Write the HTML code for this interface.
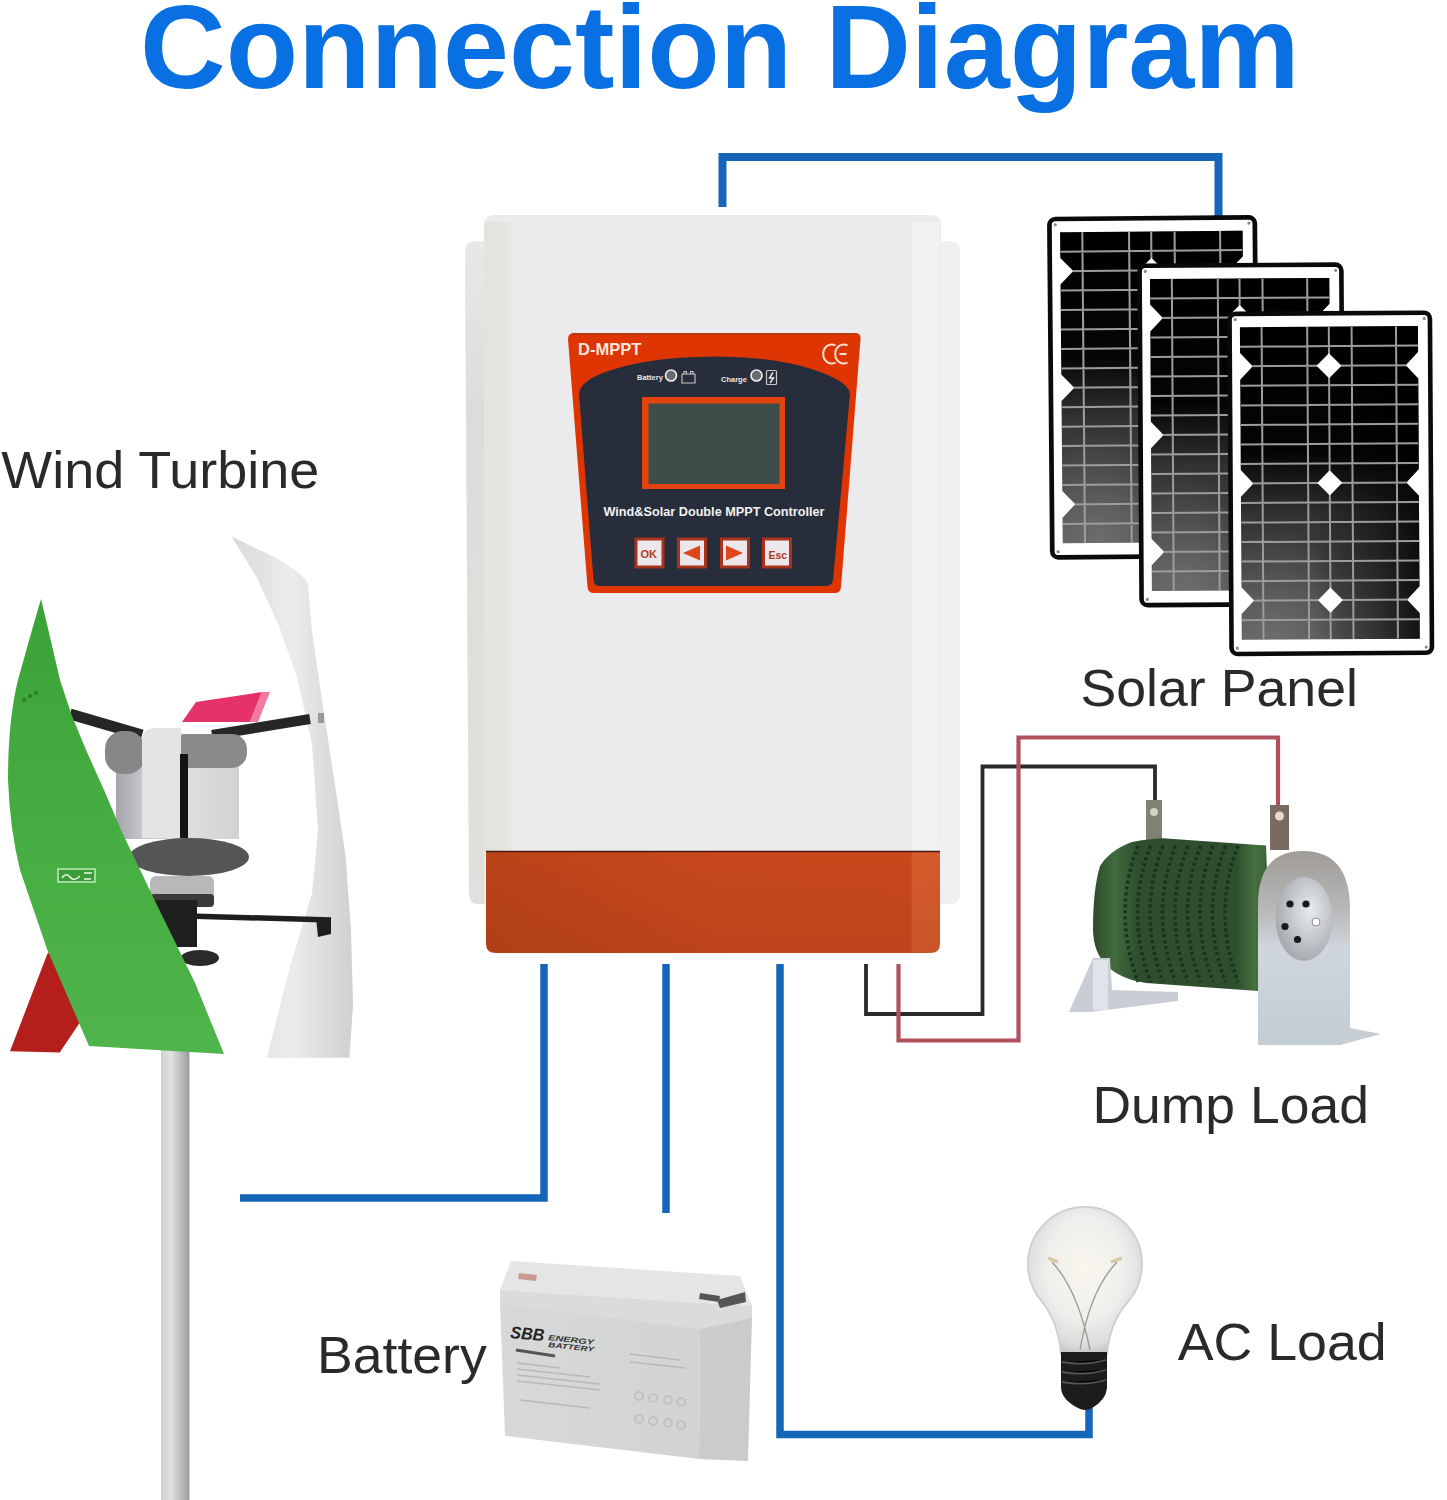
<!DOCTYPE html>
<html><head><meta charset="utf-8">
<style>
html,body{margin:0;padding:0;background:#fff;}
body{width:1447px;height:1500px;overflow:hidden;position:relative;font-family:"Liberation Sans",sans-serif;}
svg{position:absolute;left:0;top:0;}
.lbl{font-family:"Liberation Sans",sans-serif;font-size:52px;fill:#2a2a2a;}
</style></head>
<body>
<svg width="1447" height="1500" viewBox="0 0 1447 1500">
<defs>
  <clipPath id="cellclip"><path d="M0 0 H178 V25.6 L165.4 38.9 L178 52.2 V142.2 L165.4 155.5 L178 168.8 V258.8 L165.4 272.1 L178 285.4 V311 H0 V285.4 L12.6 272.1 L0 258.8 V168.8 L12.6 155.5 L0 142.2 V52.2 L12.6 38.9 L0 25.6 Z"/></clipPath>
  <linearGradient id="cellg" x1="0" y1="0" x2="0" y2="1">
    <stop offset="0" stop-color="#000"/>
    <stop offset="0.4" stop-color="#050505"/>
    <stop offset="0.6" stop-color="#333"/>
    <stop offset="1" stop-color="#606060"/>
  </linearGradient>
  <linearGradient id="cellshade" x1="0" y1="0" x2="1" y2="0">
    <stop offset="0" stop-color="#000" stop-opacity="0"/>
    <stop offset="0.4" stop-color="#000" stop-opacity="0.05"/>
    <stop offset="0.75" stop-color="#000" stop-opacity="0.45"/>
    <stop offset="1" stop-color="#000" stop-opacity="0.8"/>
  </linearGradient>
  <radialGradient id="cellspot" cx="0.2" cy="0.98" r="0.35">
    <stop offset="0" stop-color="#8a8a8a" stop-opacity="0.35"/>
    <stop offset="1" stop-color="#8a8a8a" stop-opacity="0"/>
  </radialGradient>
  <linearGradient id="poleg" x1="0" y1="0" x2="1" y2="0">
    <stop offset="0" stop-color="#cfcfcf"/>
    <stop offset="0.35" stop-color="#e2e2e2"/>
    <stop offset="0.7" stop-color="#bdbdbd"/>
    <stop offset="1" stop-color="#9a9a9a"/>
  </linearGradient>
  <linearGradient id="whiteblade" x1="0" y1="0" x2="1" y2="0">
    <stop offset="0" stop-color="#dadada"/>
    <stop offset="0.5" stop-color="#ececec"/>
    <stop offset="1" stop-color="#d0d0d0"/>
  </linearGradient>
  <linearGradient id="hubg" x1="0" y1="0" x2="1" y2="0">
    <stop offset="0" stop-color="#a4a4aa"/>
    <stop offset="0.2" stop-color="#c4c4ca"/>
    <stop offset="0.6" stop-color="#dedede"/>
    <stop offset="1" stop-color="#d2d2d2"/>
  </linearGradient>
  <linearGradient id="greeng" x1="0" y1="0" x2="0" y2="1">
    <stop offset="0" stop-color="#3aa238"/>
    <stop offset="0.5" stop-color="#45ad41"/>
    <stop offset="1" stop-color="#4fb44a"/>
  </linearGradient>
  <linearGradient id="resg" x1="0" y1="0" x2="1" y2="0">
    <stop offset="0" stop-color="#2c4a2a"/>
    <stop offset="0.12" stop-color="#416c3c"/>
    <stop offset="0.25" stop-color="#2e4e2e"/>
    <stop offset="0.8" stop-color="#2e4e2e"/>
    <stop offset="0.9" stop-color="#467040"/>
    <stop offset="1" stop-color="#3a6036"/>
  </linearGradient>
  <linearGradient id="silver" x1="0" y1="0" x2="0" y2="1">
    <stop offset="0" stop-color="#a09c98"/>
    <stop offset="0.3" stop-color="#b8b8b8"/>
    <stop offset="0.5" stop-color="#cfd6dc"/>
    <stop offset="1" stop-color="#c4ccd4"/>
  </linearGradient>
  <radialGradient id="discg" cx="0.6" cy="0.4" r="0.6">
    <stop offset="0" stop-color="#e8ecef"/>
    <stop offset="0.6" stop-color="#c2c6ca"/>
    <stop offset="1" stop-color="#a8acb0"/>
  </radialGradient>
  <radialGradient id="bulbg" cx="0.5" cy="0.42" r="0.58">
    <stop offset="0" stop-color="#faf7ee"/>
    <stop offset="0.6" stop-color="#eeeeec"/>
    <stop offset="0.9" stop-color="#dcdcdc"/>
    <stop offset="1" stop-color="#c8c8c8"/>
  </radialGradient>
  <linearGradient id="orangeg" x1="0" y1="0" x2="1" y2="0">
    <stop offset="0" stop-color="#bb4318"/>
    <stop offset="0.5" stop-color="#c8481c"/>
    <stop offset="0.935" stop-color="#c9481c"/>
    <stop offset="0.94" stop-color="#d65b2c"/>
    <stop offset="1" stop-color="#d45a2b"/>
  </linearGradient>
  <linearGradient id="orangev" x1="0" y1="0" x2="0" y2="1">
    <stop offset="0" stop-color="#000" stop-opacity="0"/>
    <stop offset="1" stop-color="#000" stop-opacity="0.06"/>
  </linearGradient>
  <linearGradient id="bodyband" x1="0" y1="0" x2="1" y2="0">
    <stop offset="0" stop-color="#e2e2de"/>
    <stop offset="0.65" stop-color="#e4e4e1"/>
    <stop offset="1" stop-color="#ebebed"/>
  </linearGradient>
  <linearGradient id="flangeg" x1="0" y1="0" x2="0" y2="1">
    <stop offset="0" stop-color="#e8e8e6"/>
    <stop offset="0.25" stop-color="#dedcda"/>
    <stop offset="1" stop-color="#e0e0dc"/>
  </linearGradient>
  <linearGradient id="battfront" x1="0" y1="0" x2="1" y2="0">
    <stop offset="0" stop-color="#d7d9d9"/>
    <stop offset="1" stop-color="#d2d4d4"/>
  </linearGradient>
  <g id="panel">
<rect x="2.3" y="2.3" width="200.4" height="338.4" rx="6" fill="#fff" stroke="#0a0a0a" stroke-width="4.6"/>
<g transform="translate(12.6 15.6)">
<path id="cellpath" d="M0 0 H178 V25.6 L165.4 38.9 L178 52.2 V142.2 L165.4 155.5 L178 168.8 V258.8 L165.4 272.1 L178 285.4 V311 H0 V285.4 L12.6 272.1 L0 258.8 V168.8 L12.6 155.5 L0 142.2 V52.2 L12.6 38.9 L0 25.6 Z" fill="url(#cellg)"/>
<path d="M0 0 H178 V25.6 L165.4 38.9 L178 52.2 V142.2 L165.4 155.5 L178 168.8 V258.8 L165.4 272.1 L178 285.4 V311 H0 V285.4 L12.6 272.1 L0 258.8 V168.8 L12.6 155.5 L0 142.2 V52.2 L12.6 38.9 L0 25.6 Z" fill="url(#cellshade)"/>
<path d="M0 0 H178 V25.6 L165.4 38.9 L178 52.2 V142.2 L165.4 155.5 L178 168.8 V258.8 L165.4 272.1 L178 285.4 V311 H0 V285.4 L12.6 272.1 L0 258.8 V168.8 L12.6 155.5 L0 142.2 V52.2 L12.6 38.9 L0 25.6 Z" fill="url(#cellspot)"/>
<path d="M21.7 0V311 M67.3 0V311 M88.9 0V311 M111.7 0V311 M156.1 0V311 M0 19.4H178 M0 38.9H178 M0 58.3H178 M0 77.8H178 M0 97.2H178 M0 116.6H178 M0 136.1H178 M0 155.5H178 M0 174.9H178 M0 194.4H178 M0 213.8H178 M0 233.2H178 M0 252.7H178 M0 272.1H178 M0 291.6H178" stroke="#9c9c9c" stroke-width="2" fill="none" clip-path="url(#cellclip)"/>
<path d="M88.9 26.4 L101.4 38.9 L88.9 51.4 L76.4 38.9 Z" fill="#fff"/>
<path d="M88.9 143.0 L101.4 155.5 L88.9 168.0 L76.4 155.5 Z" fill="#fff"/>
<path d="M88.9 259.6 L101.4 272.1 L88.9 284.6 L76.4 272.1 Z" fill="#fff"/>
</g>
<circle cx="8" cy="8" r="1.6" fill="#888"/>
<circle cx="197" cy="8" r="1.6" fill="#888"/>
<circle cx="8" cy="335" r="1.6" fill="#888"/>
<circle cx="197" cy="335" r="1.6" fill="#888"/>
  </g>
</defs>

<!-- TITLE -->
<text id="title" x="140" y="88" font-family="Liberation Sans" font-weight="bold" font-size="118.6" fill="#0870e3">Connection Diagram</text>

<!-- top blue wire -->
<path d="M722.5 207 V157 H1218.5 V216" fill="none" stroke="#1565b8" stroke-width="8"/>

<!-- CONTROLLER -->
<g id="controller">
  <path d="M475 241 H950 Q960 241 960 251 V894 Q960 904 950 904 H479 Q469 904 469 894 L465 251 Q465 241 475 241 Z" fill="#f0f0f2"/>
  <path d="M474 242 H484.5 V904 H479 Q469 904 469 894 L465 251 Q465 242 474 242 Z" fill="url(#flangeg)"/>
  <rect x="484" y="215" width="457" height="637" rx="9" fill="#ebebed"/>
  <rect x="484.5" y="222" width="32" height="630" fill="url(#bodyband)"/>
  <rect x="912" y="222" width="28" height="630" fill="#f1f1f3"/>
  <path d="M486 851 H940 V944 Q940 953 930 953 H496 Q486 953 486 944 Z" fill="url(#orangeg)"/>
  <path d="M486 851 H940 V944 Q940 953 930 953 H496 Q486 953 486 944 Z" fill="url(#orangev)"/>
  <path d="M486 851.5 H940" stroke="#4a1a0c" stroke-width="1.5"/>
  <!-- front panel -->
  <path d="M574 333 H855 Q861 333 860.5 339 L841 587 Q840.5 593 835 593 H594 Q588 593 587.5 587 L568 339 Q568 333 574 333 Z" fill="#de3503"/>
  <path d="M572 334 H857" stroke="#a83c1a" stroke-width="1.5"/>
  <path d="M579 394 Q580 383 598 375 Q640 357 715 356.5 Q790 357 832 377 Q849 385 850 394 L833 580 Q832 586 826 586 H600 Q594 586 593.5 580 Z" fill="#272d3b"/>
  <rect x="642" y="397" width="143" height="92" fill="#e2440f"/>
  <rect x="648.5" y="403.5" width="131" height="80.5" fill="#3d4d4a"/>
  <text x="578" y="355" font-family="Liberation Sans" font-weight="bold" font-size="16.5" fill="#fbe6dc">D-MPPT</text>
  <path d="M835.5 345.5 A8.5 9.5 0 1 0 835.5 362.5" fill="none" stroke="#fbe0d4" stroke-width="2"/>
  <path d="M847.5 345.5 A8.5 9.5 0 1 0 847.5 362.5 M839.5 354 H846.5" fill="none" stroke="#fbe0d4" stroke-width="2"/>
  <text x="637" y="380" font-family="Liberation Sans" font-weight="bold" font-size="7.5" fill="#e8e8e8">Battery</text>
  <circle cx="671" cy="375.5" r="5.5" fill="#6a6a6a" stroke="#eee" stroke-width="1.6"/>
  <path d="M682 374 H695 V383 H682 Z M684 374 V371.5 H686.5 V374 M690.5 374 V371.5 H693 V374" fill="none" stroke="#c8c8c8" stroke-width="1.1"/>
  <text x="721" y="382" font-family="Liberation Sans" font-weight="bold" font-size="7.5" fill="#e8e8e8">Charge</text>
  <circle cx="756.5" cy="375.5" r="5.5" fill="#6a6a6a" stroke="#eee" stroke-width="1.6"/>
  <rect x="766.5" y="370.5" width="10" height="14" rx="1" fill="none" stroke="#c8c8c8" stroke-width="1.2"/>
  <path d="M773 372.5 L769.5 378 H773.5 L770 383" fill="none" stroke="#eee" stroke-width="1.4"/>
  <text x="603.5" y="516" font-family="Liberation Sans" font-weight="bold" font-size="12.5" fill="#f2f2f2" textLength="221" lengthAdjust="spacingAndGlyphs">Wind&amp;Solar Double MPPT  Controller</text>
  <!-- buttons -->
  <g stroke="#a8321c" stroke-width="3" fill="#ebe7ea">
    <rect x="636" y="539" width="27" height="28"/>
    <rect x="678.5" y="539" width="27" height="28"/>
    <rect x="721.5" y="539" width="27" height="28"/>
    <rect x="763.5" y="539" width="27" height="28"/>
  </g>
  <text x="640.5" y="558" font-family="Liberation Sans" font-weight="bold" font-size="11" fill="#b33a20">OK</text>
  <path d="M683 553 L700 545.5 V560.5 Z" fill="#e0461a"/>
  <path d="M743 553 L726 545.5 V560.5 Z" fill="#e0461a"/>
  <text x="768.5" y="558.5" font-family="Liberation Sans" font-weight="bold" font-size="10.5" fill="#b33a20">Esc</text>
</g>

<!-- SOLAR PANELS -->
<g id="solar">
  <use href="#panel" transform="translate(1047 216.8) rotate(-0.5) scale(1.025 1)"/>
  <use href="#panel" transform="translate(1137.2 263.5) rotate(-0.35) scale(1.007 1.003)"/>
  <use href="#panel" transform="translate(1227.2 311.6) rotate(-0.35) scale(1.0 1.005)"/>
</g>

<!-- WIND TURBINE -->
<g id="turbine">
  <rect x="161" y="1040" width="28.5" height="460" fill="url(#poleg)"/>
  <!-- white blade -->
  <path d="M231.7 536.8 Q250 545 267 553.6 Q300 570 308 583.5 Q310 610 312 632 L323 706.7 L334.4 781 L345.6 856 L351 930.8 L353 1005.4 L349.4 1057.7 L267 1058 L289.6 968 L312 893.4 L318 830 L312 744 L297 676.8 L278.4 624.6 L256 576 Z" fill="url(#whiteblade)"/>
  <rect x="318" y="713" width="6" height="10" fill="#999"/>
  <!-- upper arms -->
  <path d="M70 714 L142 735" stroke="#262626" stroke-width="11"/>
  <path d="M212 735 L310 719" stroke="#262626" stroke-width="10"/>
  <!-- hub cylinder -->
  <path d="M116 762 H239 V839 H116 Z" fill="url(#hubg)"/>
  <rect x="105" y="731" width="40" height="43" rx="18" fill="#878787"/>
  <rect x="170" y="734" width="77" height="34" rx="15" fill="#8a8a8a"/>
  <path d="M142 740 Q142 729 155 728 H181 V838 H142 Z" fill="#e4e4e4"/>
  <rect x="180" y="754" width="8" height="84" fill="#141414"/>
  <!-- pink fin -->
  <path d="M182 722 L196 702 L262 692 L250 722 Z" fill="#e5336a"/>
  <path d="M250 722 L262 692 L270 692 L258 722 Z" fill="#f07aa0"/>
  <!-- dark disc -->
  <ellipse cx="189" cy="857" rx="60" ry="19" fill="#555"/>
  <rect x="150" y="876" width="64" height="31" rx="6" fill="#b8b8b8"/>
  <rect x="150" y="894" width="64" height="13" rx="4" fill="#3a3a3a"/>
  <rect x="155" y="900" width="42" height="47" fill="#1e1e1e"/>
  <ellipse cx="200" cy="958" rx="19" ry="8" fill="#2a2a2a"/>
  <path d="M188 916 L331 920" stroke="#1e1e1e" stroke-width="5.5"/>
  <path d="M316 918 H331 V934 L318 937 Z" fill="#1e1e1e"/>
  <!-- red blade -->
  <path d="M10 1051.3 L47.3 954 L60 940 L95 1000 L59.7 1052.5 Z" fill="#b41f1c"/>
  <!-- green blade -->
  <path d="M41 599 L46 620 L60 680 L72 716 L86 750 L104 790 L121 830 L155.5 902 L195 982.7 L224 1054 L89 1046 L47 949 L20 870 Q10 830 8 780 Q8 720 18 680 L32 630 Z" fill="url(#greeng)"/>
  <rect x="57" y="868" width="39" height="15" fill="#3d9c3a"/>
  <rect x="58" y="869" width="37" height="13" fill="none" stroke="#b8ecb4" stroke-width="1.6"/>
  <path d="M62 878 Q66 872 70 877 T80 876 M84 873 H92 M84 879 H91" fill="none" stroke="#e6f6e4" stroke-width="1.6"/>
  <g fill="#2f7f30"><circle cx="24" cy="700" r="2.2"/><circle cx="30" cy="696" r="2.2"/><circle cx="36" cy="693" r="2.2"/></g>
</g>

<!-- labels -->
<text class="lbl" x="1.3" y="488" textLength="318" lengthAdjust="spacingAndGlyphs">Wind Turbine</text>
<text class="lbl" x="1080.4" y="706" textLength="277.6" lengthAdjust="spacingAndGlyphs">Solar Panel</text>
<text class="lbl" x="1092.5" y="1123" textLength="276.4" lengthAdjust="spacingAndGlyphs">Dump Load</text>
<text class="lbl" x="1177.7" y="1360" textLength="209" lengthAdjust="spacingAndGlyphs">AC Load</text>
<text class="lbl" x="317.1" y="1373" textLength="169.6" lengthAdjust="spacingAndGlyphs">Battery</text>

<!-- bottom blue wires -->
<path d="M544 964 V1198 H240" fill="none" stroke="#1565b8" stroke-width="7.5"/>
<path d="M666 964 V1213" fill="none" stroke="#1565b8" stroke-width="7.5"/>
<path d="M780 964 V1434.5 H1089 V1405" fill="none" stroke="#1565b8" stroke-width="7.5"/>

<!-- dump wires -->
<path d="M866 964 V1014 H982.5 V766.5 H1155 V805" fill="none" stroke="#2a2a2a" stroke-width="3.8"/>
<path d="M898.5 964 V1040.5 H1018.5 V737.5 H1278 V812" fill="none" stroke="#b0505c" stroke-width="4.2"/>

<!-- RESISTOR -->
<g id="resistor">
  <path d="M1146 800 H1162 V845 H1146 Z" fill="#7e8272"/>
  <circle cx="1154" cy="812" r="4" fill="#cfd2c8"/>
  <path d="M1270 805 H1289 V850 H1270 Z" fill="#7a6a60"/>
  <circle cx="1279.5" cy="816" r="4.5" fill="#e6d8d0"/>
  <path d="M1132 842 Q1160 837 1170 838.7 L1266 845.6 L1272 992 L1146 983 Q1094 975 1093 930 Q1093 889 1100 866 Q1110 850 1132 842 Z" fill="url(#resg)"/>
  <path d="M1138.0 846 Q1112.0 912 1138.0 982 M1150.5 846 Q1124.5 912 1150.5 982 M1163.0 846 Q1137.0 912 1163.0 982 M1175.5 846 Q1149.5 912 1175.5 982 M1188.0 846 Q1162.0 912 1188.0 982 M1200.5 846 Q1174.5 912 1200.5 982 M1213.0 846 Q1187.0 912 1213.0 982 M1225.5 846 Q1199.5 912 1225.5 982 M1238.0 846 Q1212.0 912 1238.0 982" fill="none" stroke="#1a321b" stroke-width="3.5" stroke-dasharray="3 3"/>
  <path d="M1069 1012 L1093 958 H1110 L1112 990 L1178 992 V1001 L1090 1012 Z" fill="#c8ced4"/>
  <path d="M1093 960 H1108 V1010 H1093 Z" fill="#dfe4e8"/>
  <path d="M1258 1045 V905 Q1258 851 1303 851 Q1348 851 1350 905 V1028 L1381 1034 L1340 1045 Z" fill="url(#silver)"/>
  <ellipse cx="1304" cy="919" rx="28.5" ry="42" fill="url(#discg)"/>
  <g fill="#1a1a1a"><circle cx="1290" cy="904" r="3.6"/><circle cx="1306" cy="904" r="3.6"/><circle cx="1285" cy="926.5" r="3.6"/><circle cx="1297.5" cy="939.5" r="3.6"/></g>
  <circle cx="1316" cy="922" r="4" fill="#fff" stroke="#888" stroke-width="1"/>
</g>

<!-- BATTERY -->
<g id="battery">
  <path d="M500 1290 L511 1261 L740 1276 L752 1306 Z" fill="#e4e6e6"/>
  <path d="M500 1290 L752 1306 L752 1322 L700 1331 L500 1307 Z" fill="#dadcdc"/>
  <path d="M500 1304 L700 1329 L699 1459 L505 1436 Z" fill="url(#battfront)"/>
  <path d="M700 1329 L752 1318 L748 1461 L699 1459 Z" fill="#cacccc"/>
  <path d="M519 1273 L537 1275 L536 1281 L518 1279 Z" fill="#c89a90"/>
  <path d="M700 1293 L720 1296 L719 1302 L699 1299 Z M717 1300 L745 1292 L746 1302 L720 1308 Z" fill="#555"/>
  <text x="510" y="1338" font-family="Liberation Sans" font-weight="bold" font-style="italic" font-size="17" fill="#222" transform="rotate(5 510 1338)" textLength="34" lengthAdjust="spacingAndGlyphs">SBB</text>
  <text x="548" y="1340" font-family="Liberation Sans" font-weight="bold" font-style="italic" font-size="7.5" fill="#333" transform="rotate(6 548 1340)" textLength="46" lengthAdjust="spacingAndGlyphs">ENERGY</text>
  <text x="548" y="1347" font-family="Liberation Sans" font-weight="bold" font-style="italic" font-size="7" fill="#333" transform="rotate(6 548 1347)" textLength="46" lengthAdjust="spacingAndGlyphs">BATTERY</text>
  <path d="M516 1350 L555 1356" stroke="#555" stroke-width="3"/>
  <g stroke="#b8baba" stroke-width="1.5">
    <path d="M517 1363 L560 1368 M517 1369 L590 1377 M517 1375 L600 1384 M517 1381 L600 1390"/>
    <path d="M630 1354 L680 1360 M630 1362 L685 1368"/>
    <path d="M520 1400 L590 1408"/>
  </g>
  <g fill="none" stroke="#c0c2c2" stroke-width="2">
    <circle cx="639" cy="1396" r="4"/><circle cx="653" cy="1398" r="4"/><circle cx="668" cy="1400" r="4"/><circle cx="681" cy="1402" r="4"/>
    <circle cx="639" cy="1419" r="4"/><circle cx="653" cy="1421" r="4"/><circle cx="668" cy="1423" r="4"/><circle cx="681" cy="1425" r="4"/>
  </g>
</g>

<!-- BULB -->
<g id="bulb">
  <path d="M1061 1354 Q1058 1322 1043 1303 Q1028 1286 1028 1264 A57 57 0 0 1 1142 1264 Q1142 1286 1127 1303 Q1110 1322 1107 1354 Z" fill="url(#bulbg)" stroke="#d0d0d0" stroke-width="2"/>
  <path d="M1052 1262 Q1078 1290 1090 1350 M1117 1262 Q1090 1290 1080 1350" fill="none" stroke="#9a9a92" stroke-width="1.3"/>
  <path d="M1048 1258 L1058 1262 M1122 1258 L1111 1262" stroke="#d8c8a0" stroke-width="3"/>
  <path d="M1061 1352 H1107 V1388 Q1106 1400 1092 1408 Q1085 1412 1078 1408 Q1062 1400 1061 1388 Z" fill="#1c1c1c"/>
  <g stroke="#555" stroke-width="1.8"><path d="M1062 1362 Q1085 1366 1106 1360 M1062 1372 Q1085 1376 1106 1370 M1062 1382 Q1085 1386 1106 1380"/></g>
</g>

</svg>
</body></html>
